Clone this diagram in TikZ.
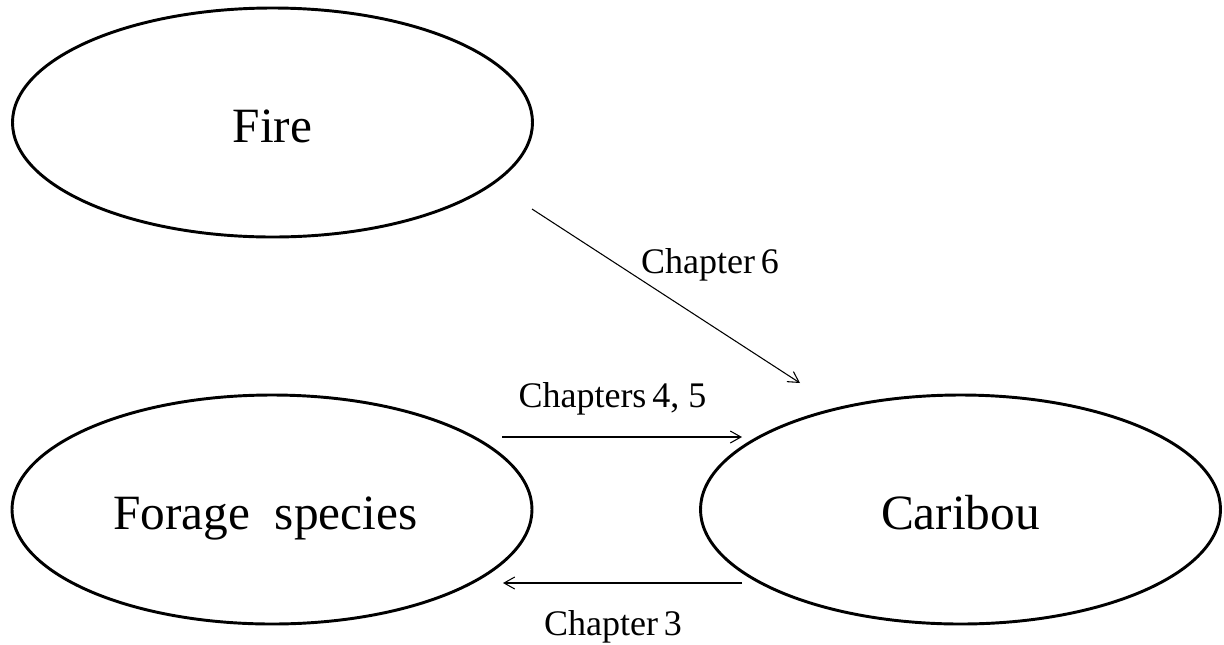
\documentclass[tikz,border=0pt]{standalone}
\usepackage{fontspec}
\setmainfont{Liberation Serif}
\usetikzlibrary{shapes.geometric,arrows.meta}
\begin{document}
\begin{tikzpicture}[x=0.75pt,y=-0.75pt,
  bubble/.style={ellipse,draw,line width=2.2pt,minimum width=390pt,minimum height=171.75pt,inner sep=0pt,
    font=\fontsize{37}{40}\selectfont,text height=34pt,text depth=3.4pt},
  link/.style={line width=0.8pt,-{Straight Barb[length=8pt,width=9pt,line width=0.8pt]}},
  lab/.style={font=\fontsize{27}{30}\selectfont,inner sep=0pt,anchor=base}]
\useasboundingbox (0,0) rectangle (1224,644);
\node[bubble] (fire) at (272.5,122.5) {Fire};
\node[bubble] (forage) at (272,509.5) {Forage\ \ species\hspace*{10pt}};
\node[bubble] (caribou) at (960.5,509.5) {Caribou};
\coordinate (a6s) at (532,209);
\coordinate (a6e) at (800,383);
\coordinate (a45s) at (502,437);
\coordinate (a45e) at (742,437);
\coordinate (a3s) at (742,583);
\coordinate (a3e) at (503,583);
\draw[link] (a6s) -- (a6e);
\draw[link] (a45s) -- (a45e);
\draw[link] (a3s) -- (a3e);
\node[lab] (l6) at (710,273) {Chapter\,6};
\node[lab] (l45) at (612.5,407) {Chapters\,4, 5};
\node[lab] (l3) at (613,635) {Chapter\,3};
\end{tikzpicture}
\end{document}
